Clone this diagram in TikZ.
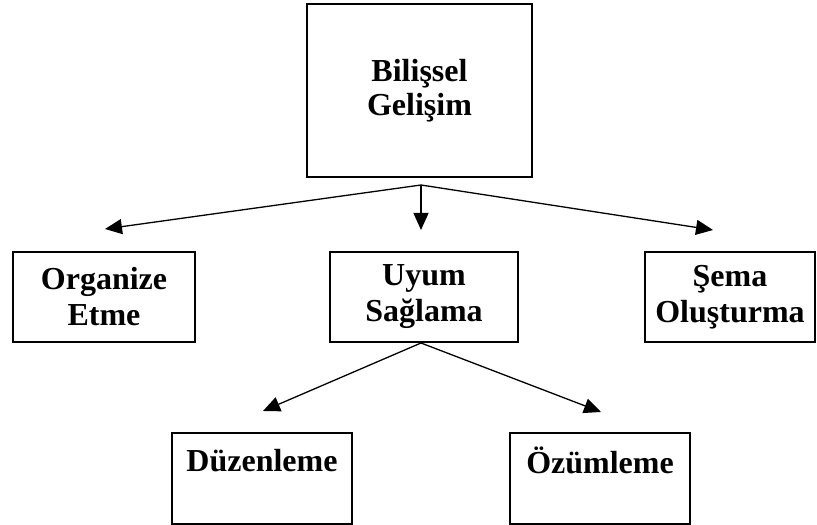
\documentclass[tikz,border=0pt]{standalone}
\usepackage{fontspec}
\setmainfont{Liberation Serif}
\usetikzlibrary{arrows.meta}
\tikzset{
  box/.style={draw=black, line width=1.6pt, rectangle, inner sep=0pt, align=center,
    font=\bfseries\fontsize{32}{36}\selectfont},
  conn/.style={line width=1.3pt, -{Triangle[length=17pt,width=15pt]}}
}
\begin{document}
\begin{tikzpicture}[x=1pt,y=1pt]
\useasboundingbox (0,0) rectangle (817,525);
\node[box, minimum width=225, minimum height=173, font=\bfseries\fontsize{32}{34}\selectfont] (top) at (419.5,434.5) {Bilişsel\\Gelişim};
\node[box, minimum width=182, minimum height=90] (org) at (104,228) {Organize\\Etme};
\node[box, minimum width=188, minimum height=90] (uyum) at (424,228) {Uyum\\Sağlama};
\node[box, minimum width=170, minimum height=90] (sema) at (730,228) {Şema\\Oluşturma};
\node[box, minimum width=180, minimum height=91] (duz) at (262,46.5) {Düzenleme\\\phantom{X}};
\node[box, minimum width=180, minimum height=91] (ozu) at (600,46.5) {Özümleme\\\phantom{X}};
\coordinate (a1) at (421,340);
\coordinate (t1) at (105,296);
\coordinate (t2) at (421,295);
\coordinate (t3) at (713,295);
\coordinate (a2) at (421,182);
\coordinate (t4) at (263,114);
\coordinate (t5) at (601,113);
\draw[conn] (a1) -- (t1);
\draw[conn] (a1) -- (t2);
\draw[conn] (a1) -- (t3);
\draw[conn] (a2) -- (t4);
\draw[conn] (a2) -- (t5);
\end{tikzpicture}
\end{document}
